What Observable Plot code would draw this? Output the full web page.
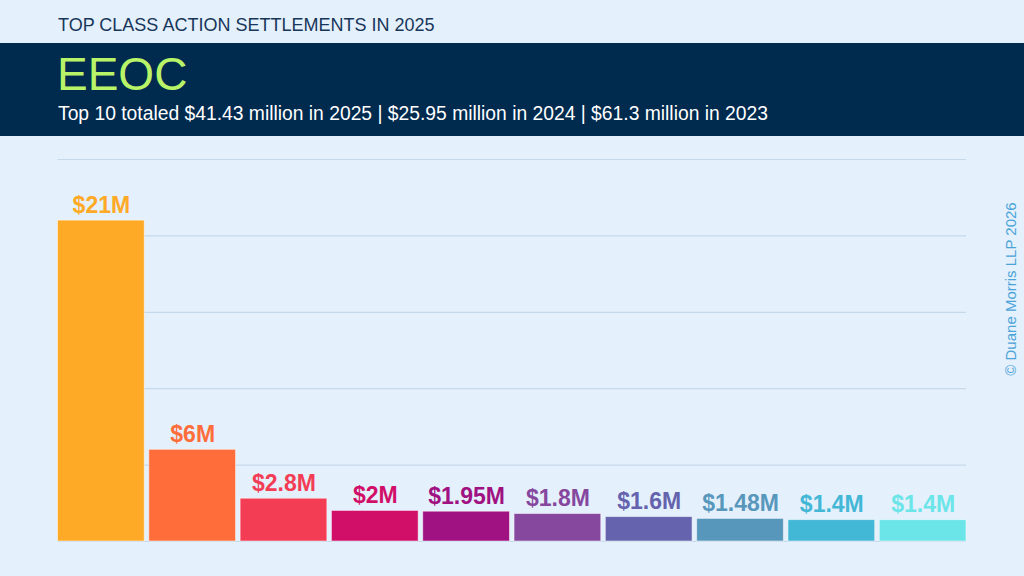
<!DOCTYPE html>
<html>
<head>
<meta charset="utf-8">
<script src="https://cdn.jsdelivr.net/npm/d3@7"></script>
<script src="https://cdn.jsdelivr.net/npm/@observablehq/plot@0.6"></script>
<style>
  html, body { margin: 0; padding: 0; }
  body { width: 1024px; height: 576px; background: #e4f0fc; font-family: "Liberation Sans", Arial, sans-serif; position: relative; overflow: hidden; }
  #kicker { position: absolute; left: 58px; top: 14px; font-size: 18px; color: #17365a; line-height: 22px; }
  #banner { position: absolute; left: 0; top: 43px; width: 1024px; height: 93px; background: #002a4e; }
  #title { position: absolute; left: 57px; top: 5px; font-size: 46px; line-height: 52px; color: #b9f468; }
  #subtitle { position: absolute; left: 58px; top: 60px; font-size: 19.3px; line-height: 22px; color: #ffffff; }
  #chart { position: absolute; left: 0; top: 136px; }
  #copy { position: absolute; left: 1010px; top: 289px; transform: translate(-50%, -50%) rotate(-90deg); font-size: 15px; color: #4ba4d8; white-space: nowrap; }
</style>
</head>
<body>
<div id="kicker">TOP CLASS ACTION SETTLEMENTS IN 2025</div>
<div id="banner">
  <div id="title">EEOC</div>
  <div id="subtitle">Top 10 totaled $41.43 million in 2025 | $25.95 million in 2024 | $61.3 million in 2023</div>
</div>
<div id="chart"></div>
<div id="copy">© Duane Morris LLP 2026</div>
<script>
const ranks = ["1","2","3","4","5","6","7","8","9","10"];
const values = [21, 6, 2.8, 2, 1.95, 1.8, 1.6, 1.48, 1.4, 1.4];
const labels = ["$21M","$6M","$2.8M","$2M","$1.95M","$1.8M","$1.6M","$1.48M","$1.4M","$1.4M"];
const barColors = ["#ffaa27","#ff6d3a","#f33d55","#d10f69","#a01181","#86489f","#6563ad","#5897bc","#43b7d6","#6ce5e9"];
const labelColors = ["#ffaa27","#ff6d3a","#f33d55","#d10f69","#a01181","#86489f","#6563ad","#5897bc","#43b7d6","#6ce5e9"];
const gridTicks = [0, 5, 10, 15, 20, 25];

const data = ranks.map((r, i) => ({rank: r, value: values[i], label: labels[i], color: barColors[i], lc: labelColors[i]}));

const chart = Plot.plot({
  width: 1024,
  height: 440,
  marginLeft: 57.5,
  marginRight: 58,
  marginTop: 23,
  marginBottom: 35,
  style: {background: "transparent", fontFamily: "Liberation Sans, Arial, sans-serif"},
  x: {domain: ranks, paddingInner: 0.05, paddingOuter: 0, round: false, axis: null},
  y: {domain: [0, 25], axis: null},
  marks: [
    Plot.ruleY(gridTicks, {stroke: "#c6d9ea", strokeWidth: 1.2}),
    Plot.barY(data, {x: "rank", y: "value", fill: d => d.color, stroke: "#ffffff", strokeOpacity: 0.5, strokeWidth: 1}),
    Plot.text(data, {x: "rank", y: "value", text: "label", fill: d => d.lc, fontSize: 23, fontWeight: "bold", lineAnchor: "bottom", textAnchor: "middle", dy: -8})
  ]
});
document.getElementById("chart").appendChild(chart);
</script>
</body>
</html>
